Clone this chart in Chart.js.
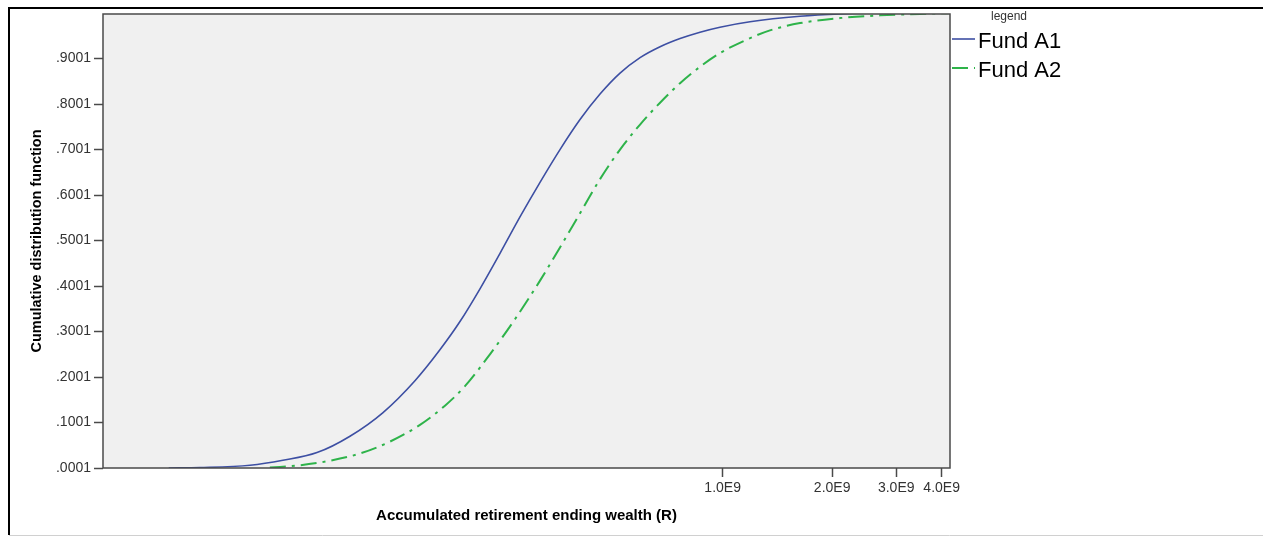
<!DOCTYPE html>
<html>
<head>
<meta charset="utf-8">
<title>Cumulative distribution of retirement wealth</title>
<script src="https://cdn.jsdelivr.net/npm/chart.js@4/dist/chart.umd.min.js"></script>
<style>
  html, body { margin: 0; padding: 0; background: #fff; }
  canvas { display: block; }
</style>
</head>
<body>
<canvas id="cdfChart" width="1263" height="537"></canvas>
<script>
// Ending wealth (R) against the cumulative share of simulated outcomes
const fundA1Wealth = [3.0e7, 3.66e7, 5.02e7, 6.18e7, 7.67e7, 9.45e7, 1.165e8, 1.426e8, 1.67e8,
  1.896e8, 2.152e8, 2.443e8, 2.772e8, 3.147e8, 3.571e8, 4.054e8, 4.601e8, 5.222e8,
  5.928e8, 6.728e8, 7.636e8, 8.665e8, 9.83e8, 1.189e9, 1.632e9, 2.101e9, 2.706e9, 4.217e9];
const fundA1Cdf = [0.0001, 0.001, 0.006, 0.017, 0.034, 0.070, 0.122, 0.192, 0.260,
  0.322, 0.394, 0.472, 0.552, 0.628, 0.700, 0.766, 0.822, 0.868,
  0.902, 0.926, 0.944, 0.958, 0.969, 0.981, 0.993, 0.998, 1.0, 1.0];

const fundA2Wealth = [5.69e7, 6.88e7, 8.32e7, 1.007e8, 1.217e8, 1.472e8, 1.724e8, 1.957e8,
  2.292e8, 2.685e8, 3.147e8, 3.571e8, 4.054e8, 4.601e8, 5.222e8, 5.928e8, 6.728e8,
  7.636e8, 8.665e8, 9.83e8, 1.152e9, 1.349e9, 1.632e9, 2.101e9, 2.706e9, 3.486e9, 4.217e9];
const fundA2Cdf = [0.001, 0.006, 0.016, 0.032, 0.058, 0.095, 0.137, 0.180,
  0.250, 0.327, 0.412, 0.485, 0.560, 0.635, 0.700, 0.755, 0.803,
  0.846, 0.882, 0.912, 0.940, 0.962, 0.978, 0.989, 0.995, 0.998, 1.0];

const xTickValues = [1e9, 2e9, 3e9, 4e9];
const yTickValues = [0.0001, 0.1001, 0.2001, 0.3001, 0.4001, 0.5001, 0.6001, 0.7001, 0.8001, 0.9001];

const seriesLabels = ['Fund A1', 'Fund A2'];

Chart.defaults.font.family = 'Arial, "Liberation Sans", sans-serif';

function toPoints(xs, ys) {
  return xs.map((x, i) => ({ x: x, y: ys[i] }));
}

// plot background, outer frame and plot border
const framePlugin = {
  id: 'frame',
  beforeDraw(chart) {
    const { ctx, chartArea: a, width, height } = chart;
    ctx.save();
    ctx.fillStyle = '#ffffff';
    ctx.fillRect(0, 0, width, height);
    ctx.fillStyle = '#f0f0f0';
    ctx.fillRect(a.left, a.top, a.right - a.left, a.bottom - a.top);

    ctx.strokeStyle = '#000';
    ctx.lineWidth = 2;
    ctx.beginPath();
    ctx.moveTo(width, 8);
    ctx.lineTo(9, 8);
    ctx.lineTo(9, height - 2);
    ctx.stroke();

    ctx.strokeStyle = '#d0d0d0';
    ctx.lineWidth = 1;
    ctx.beginPath();
    ctx.moveTo(9, height - 1.5);
    ctx.lineTo(width, height - 1.5);
    ctx.stroke();
    ctx.restore();
  },
  afterDatasetsDraw(chart) {
    const { ctx, chartArea: a } = chart;
    ctx.save();
    ctx.strokeStyle = '#4a4a4a';
    ctx.lineWidth = 1.5;
    ctx.strokeRect(a.left, a.top, a.right - a.left, a.bottom - a.top);
    ctx.restore();
  },
};

// legend block on the right, with its small "legend" heading
const sideLegendPlugin = {
  id: 'sideLegend',
  afterDraw(chart) {
    const { ctx } = chart;
    ctx.save();
    ctx.textBaseline = 'middle';
    ctx.textAlign = 'left';
    ctx.fillStyle = '#333';
    ctx.font = '12px Arial, "Liberation Sans", sans-serif';
    ctx.fillText('legend', 991, 17);

    chart.data.datasets.forEach((ds, i) => {
      const y = 41 + i * 29;
      ctx.strokeStyle = ds.borderColor;
      ctx.lineWidth = ds.borderWidth;
      ctx.setLineDash(ds.borderDash || []);
      ctx.beginPath();
      ctx.moveTo(952, y - 2);
      ctx.lineTo(975, y - 2);
      ctx.stroke();
      ctx.setLineDash([]);
      ctx.fillStyle = '#000';
      ctx.font = '22px Arial, "Liberation Sans", sans-serif';
      ctx.fillText(ds.label, 978, y + 1);
    });
    ctx.restore();
  },
};

const ctx = document.getElementById('cdfChart').getContext('2d');
new Chart(ctx, {
  type: 'line',
  data: {
    datasets: [
      {
        label: seriesLabels[0],
        data: toPoints(fundA1Wealth, fundA1Cdf),
        borderColor: '#3d4fa3',
        borderWidth: 1.6,
        pointRadius: 0,
        cubicInterpolationMode: 'monotone',
      },
      {
        label: seriesLabels[1],
        data: toPoints(fundA2Wealth, fundA2Cdf),
        borderColor: '#2eb34a',
        borderWidth: 2,
        borderDash: [16, 6, 3, 6],
        pointRadius: 0,
        cubicInterpolationMode: 'monotone',
      },
    ],
  },
  options: {
    responsive: false,
    animation: false,
    layout: {
      padding: { top: 14, left: 8, right: 313, bottom: 0 },
    },
    scales: {
      x: {
        type: 'logarithmic',
        bounds: 'data',
        min: 1.979e7,
        max: 4.217e9,
        afterBuildTicks: (scale) => {
          scale.ticks = xTickValues.map((v) => ({ value: v }));
        },
        afterFit: (scale) => {
          scale.height = 69;
        },
        border: { display: false },
        grid: {
          drawOnChartArea: false,
          drawTicks: true,
          tickLength: 9,
          tickColor: '#4a4a4a',
          tickWidth: 1.5,
        },
        ticks: {
          autoSkip: false,
          maxRotation: 0,
          padding: 3,
          color: '#333',
          font: { size: 14 },
          callback: (v) => (v / 1e9).toFixed(1) + 'E9',
        },
        title: {
          display: true,
          text: 'Accumulated retirement ending wealth (R)',
          color: '#000',
          font: { size: 15, weight: 'bold' },
          padding: { top: 0, bottom: 12 },
        },
      },
      y: {
        type: 'linear',
        bounds: 'data',
        min: 0.0001,
        max: 0.998,
        afterBuildTicks: (scale) => {
          scale.ticks = yTickValues.map((v) => ({ value: v }));
        },
        afterFit: (scale) => {
          scale.width = 95;
        },
        border: { display: false },
        grid: {
          drawOnChartArea: false,
          drawTicks: true,
          tickLength: 9,
          tickColor: '#4a4a4a',
          tickWidth: 1.5,
        },
        ticks: {
          padding: 3,
          color: '#333',
          font: { size: 14 },
          callback: (v) => v.toFixed(4).replace(/^0/, ''),
        },
        title: {
          display: true,
          text: 'Cumulative distribution function',
          color: '#000',
          font: { size: 14.5, weight: 'bold' },
          padding: { top: 20, bottom: 0 },
        },
      },
    },
    plugins: {
      legend: { display: false },
      tooltip: { enabled: false },
    },
  },
  plugins: [framePlugin, sideLegendPlugin],
});
</script>
</body>
</html>
